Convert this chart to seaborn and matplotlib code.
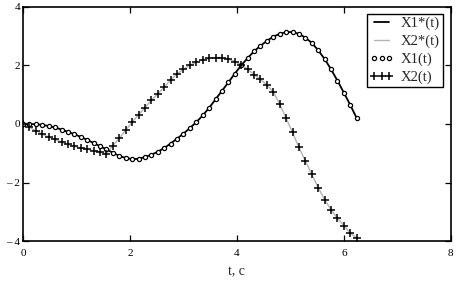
import matplotlib
matplotlib.use("Agg")
import matplotlib.pyplot as plt
import pandas as pd
import seaborn as sns

sns.set_style("ticks")
plt.rcParams["font.family"] = ["Liberation Serif", "DejaVu Serif"]

# time grid (step ~0.12)
t = [0.00, 0.12, 0.24, 0.36, 0.48, 0.60, 0.72, 0.84, 0.96, 1.08,
     1.20, 1.32, 1.44, 1.56, 1.68, 1.80, 1.92, 2.04, 2.16, 2.28,
     2.40, 2.52, 2.64, 2.76, 2.88, 3.00, 3.12, 3.24, 3.36, 3.48,
     3.60, 3.72, 3.84, 3.96, 4.08, 4.20, 4.32, 4.44, 4.56, 4.68,
     4.80, 4.92, 5.04, 5.16, 5.28, 5.40, 5.52, 5.64, 5.76, 5.88,
     6.00, 6.12, 6.24]

x1 = [0.00, 0.00, -0.01, -0.03, -0.07, -0.12, -0.19, -0.27, -0.35, -0.44,
      -0.54, -0.65, -0.76, -0.87, -0.98, -1.09, -1.16, -1.20, -1.19, -1.13,
      -1.05, -0.95, -0.82, -0.67, -0.50, -0.33, -0.14, 0.06, 0.29, 0.55,
      0.84, 1.13, 1.42, 1.72, 2.00, 2.25, 2.48, 2.67, 2.84, 2.98,
      3.08, 3.14, 3.14, 3.08, 2.95, 2.77, 2.52, 2.22, 1.87, 1.48,
      1.07, 0.65, 0.20]

x2 = [0.00, -0.12, -0.23, -0.35, -0.45, -0.53, -0.62, -0.70, -0.76, -0.82,
      -0.86, -0.91, -0.96, -1.02, -0.74, -0.49, -0.22, 0.06, 0.31, 0.56,
      0.81, 1.03, 1.26, 1.50, 1.71, 1.87, 2.00, 2.11, 2.19, 2.24,
      2.27, 2.27, 2.22, 2.13, 2.02, 1.87, 1.69, 1.52, 1.34, 1.10,
      0.68, 0.20, -0.29, -0.80, -1.26, -1.72, -2.17, -2.58, -2.93, -3.22,
      -3.47, -3.72, -3.90]

xticks = [0, 2, 4, 6, 8]
yticks = [-4, -2, 0, 2, 4]
ytick_labels = ["\u2013 4", "\u2013 2", "0", "2", "4"]

df = pd.DataFrame({"t": t, "x1": x1, "x2": x2})

fig = plt.figure(figsize=(4.6, 2.87), dpi=100)
ax = fig.add_axes([0.05, 0.16, 0.93, 0.816])

sns.lineplot(data=df, x="t", y="x1", ax=ax, color="black", lw=1.3,
             label="X1*(t)", zorder=2)
sns.lineplot(data=df, x="t", y="x2", ax=ax, color="#b4b4b4", lw=1.0,
             label="X2*(t)", zorder=1)
ax.plot(df.t, df.x1, ls="none", marker="o", ms=3.0, mfc="white",
        mec="black", mew=0.9, label="X1(t)", zorder=3)
ax.plot(df.t, df.x2, ls="none", marker="+", ms=5.5, mec="black",
        mew=1.1, label="X2(t)", zorder=3)

ax.set_xlim(0, 8)
ax.set_ylim(-4, 4)
ax.set_xticks(xticks)
ax.set_xticklabels([str(v) for v in xticks])
ax.set_yticks(yticks)
ax.set_yticklabels(ytick_labels)
ax.tick_params(direction="in", length=4, width=0.9, labelsize=8,
               top=True, right=True, colors="black")
ax.tick_params(axis="x", pad=6)
ax.tick_params(axis="y", pad=2)
for s in ax.spines.values():
    s.set_linewidth(1.2)
    s.set_color("black")

ax.set_xlabel("t, c", fontsize=10, labelpad=5)
ax.set_ylabel("")

leg = ax.legend(loc="upper right", bbox_to_anchor=(0.981, 0.970),
                borderaxespad=0, fontsize=10.5, numpoints=3,
                handlelength=1.6, handletextpad=0.5, borderpad=0.2,
                labelspacing=0.3, fancybox=False, framealpha=1)
leg.get_frame().set_edgecolor("black")
leg.get_frame().set_linewidth(1.0)

fig.savefig("out.png", dpi=100)
